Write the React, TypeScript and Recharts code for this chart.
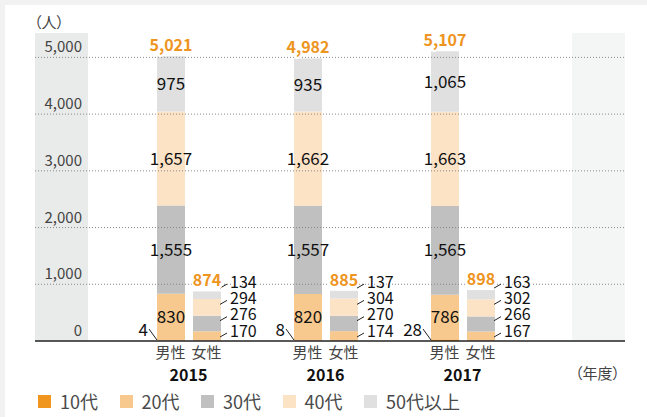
import { BarChart, Bar, XAxis, YAxis, ReferenceLine, LabelList } from 'recharts';

const years = ['2015', '2016', '2017'];
const ageGroups = ['10代', '20代', '30代', '40代', '50代以上'];
const colors = ['#f0961e', '#f7c98e', '#bfc0bf', '#fce3c6', '#e0e0e0'];

const male10 = [4, 8, 28];
const male20 = [830, 820, 786];
const male30 = [1555, 1557, 1565];
const male40 = [1657, 1662, 1663];
const male50 = [975, 935, 1065];
const female20 = [170, 174, 167];
const female30 = [276, 270, 266];
const female40 = [294, 304, 302];
const female50 = [134, 137, 163];
const maleTotal = [5021, 4982, 5107];
const femaleTotal = [874, 885, 898];
const yTicks = [0, 1000, 2000, 3000, 4000, 5000];

const femaleSeries = [female20, female30, female40, female50];

const data = years.map((year, i) => ({
  year,
  m10: male10[i],
  m20: male20[i],
  m30: male30[i],
  m40: male40[i],
  m50: male50[i],
  f20: female20[i],
  f30: female30[i],
  f40: female40[i],
  f50: female50[i],
  mTotal: maleTotal[i],
  fTotal: femaleTotal[i],
}));

const FONT = '"Noto Sans CJK JP", "Noto Sans", sans-serif';
const ORANGE = '#ee9420';
const fmt = (v: any) => Number(v).toLocaleString('en-US');

const YTick = (props: any) => {
  const { y, payload } = props;
  return (
    <text x={82} y={y - 5} textAnchor="end" fontSize={15} fill="#444">
      {fmt(payload.value)}
    </text>
  );
};

const XTick = (props: any) => {
  const { x, y, payload } = props;
  return (
    <g>
      <text x={x - 18} y={y + 9} textAnchor="middle" fontSize={15} fill="#444">男性</text>
      <text x={x + 18} y={y + 9} textAnchor="middle" fontSize={15} fill="#444">女性</text>
      <text x={x} y={y + 32} textAnchor="middle" fontSize={16} fontWeight="bold" fill="#111">
        {payload.value}
      </text>
    </g>
  );
};

// 10代 (male) label sits left of the bar with a short leader line
const Male10Label = (props: any) => {
  const { x, y, height, value } = props;
  const base = y + height;
  return (
    <g>
      <line x1={x - 8} y1={base - 12} x2={x} y2={base - 1} stroke="#222" strokeWidth={1} />
      <text x={x - 9} y={base - 5} textAnchor="end" fontSize={17} fill="#111">{fmt(value)}</text>
    </g>
  );
};

const TotalLabel = (props: any) => {
  const { x, y, width, value } = props;
  return (
    <text
      x={x + width / 2}
      y={y - 5}
      textAnchor="middle"
      fontSize={16}
      fontWeight="bold"
      fill={ORANGE}
      stroke="#fff"
      strokeWidth={4}
      paintOrder="stroke"
    >
      {fmt(value)}
    </text>
  );
};

// female labels are stacked to the right of the bar, evenly spaced
const femaleLabel = (level: number) => (props: any) => {
  const { x, y, width, height, value, index } = props;
  const perUnit = height / value;
  let below = 0;
  for (let k = 0; k < level; k++) below += femaleSeries[k][index];
  const base = y + height + below * perUnit;
  const cy = base - 10 - level * 16.3;
  const right = x + width;
  return (
    <g>
      <line x1={right - 1} y1={cy + 6} x2={right + 6} y2={cy + 2} stroke="#222" strokeWidth={1} />
      <text
        x={right + 9}
        y={cy + 5.5}
        fontSize={16}
        fill="#111"
        stroke="#fff"
        strokeWidth={3}
        paintOrder="stroke"
      >
        {fmt(value)}
      </text>
    </g>
  );
};

const maleKeys = ['m10', 'm20', 'm30', 'm40', 'm50'];
const femaleKeys = ['f20', 'f30', 'f40', 'f50'];

export default function App() {
  return (
    <div style={{ position: 'relative', width: 647, height: 417, background: '#f2f2f2', fontFamily: FONT }}>
      <style>{'body{margin:0}'}</style>
      <div style={{ position: 'absolute', left: 5, top: 5, width: 642, height: 412, background: '#fff' }} />
      <div style={{ position: 'absolute', left: 35, top: 33, width: 53, height: 308, background: '#e9ebea' }} />
      <div style={{ position: 'absolute', left: 572, top: 33, width: 53, height: 308, background: '#f4f6f5' }} />
      <div style={{ position: 'absolute', left: 34, top: 11, fontSize: 15, color: '#444', fontFeatureSettings: '"palt"' }}>（人）</div>
      <div style={{ position: 'absolute', left: 575, top: 362, fontSize: 15, color: '#444', fontFeatureSettings: '"palt"' }}>（年度）</div>
      <div style={{ position: 'absolute', left: 0, top: 0 }}>
        <BarChart
          width={647}
          height={417}
          data={data}
          margin={{ top: 33, right: 22, bottom: 36, left: 35 }}
          barSize={28}
          barGap={8}
        >
          <XAxis
            dataKey="year"
            padding={{ left: 85, right: 94 }}
            height={40}
            tickLine={false}
            axisLine={{ stroke: '#222', strokeWidth: 1.5 }}
            tick={<XTick />}
            interval={0}
          />
          <YAxis
            mirror
            domain={[0, 5430]}
            ticks={yTicks}
            interval={0}
            axisLine={false}
            tickLine={false}
            tick={<YTick />}
          />
          {yTicks.filter((t) => t > 0).map((t) => (
            <ReferenceLine key={t} y={t} stroke="#888" strokeDasharray="1 2" />
          ))}
          {maleKeys.map((k, i) => (
            <Bar key={k} dataKey={k} stackId="m" fill={colors[i]} isAnimationActive={false}>
              {i === 0 && <LabelList dataKey={k} content={<Male10Label />} />}
              {i > 0 && (
                <LabelList dataKey={k} position="center" fontSize={17} fill="#111" formatter={fmt} />
              )}
              {i === 4 && <LabelList dataKey="mTotal" content={<TotalLabel />} />}
            </Bar>
          ))}
          {femaleKeys.map((k, i) => (
            <Bar key={k} dataKey={k} stackId="f" fill={colors[i + 1]} isAnimationActive={false}>
              <LabelList dataKey={k} content={femaleLabel(i)} />
              {i === 3 && <LabelList dataKey="fTotal" content={<TotalLabel />} />}
            </Bar>
          ))}
        </BarChart>
      </div>
      <div style={{ position: 'absolute', left: 38, top: 388, display: 'flex', fontSize: 18, color: '#4a4a4a' }}>
        {ageGroups.map((g, i) => (
          <div key={g} style={{ display: 'flex', alignItems: 'center', width: i < 4 ? 81.5 : 'auto' }}>
            <span style={{ width: 13, height: 13, background: colors[i], marginRight: 9, display: 'inline-block' }} />
            <span>{g}</span>
          </div>
        ))}
      </div>
    </div>
  );
}
